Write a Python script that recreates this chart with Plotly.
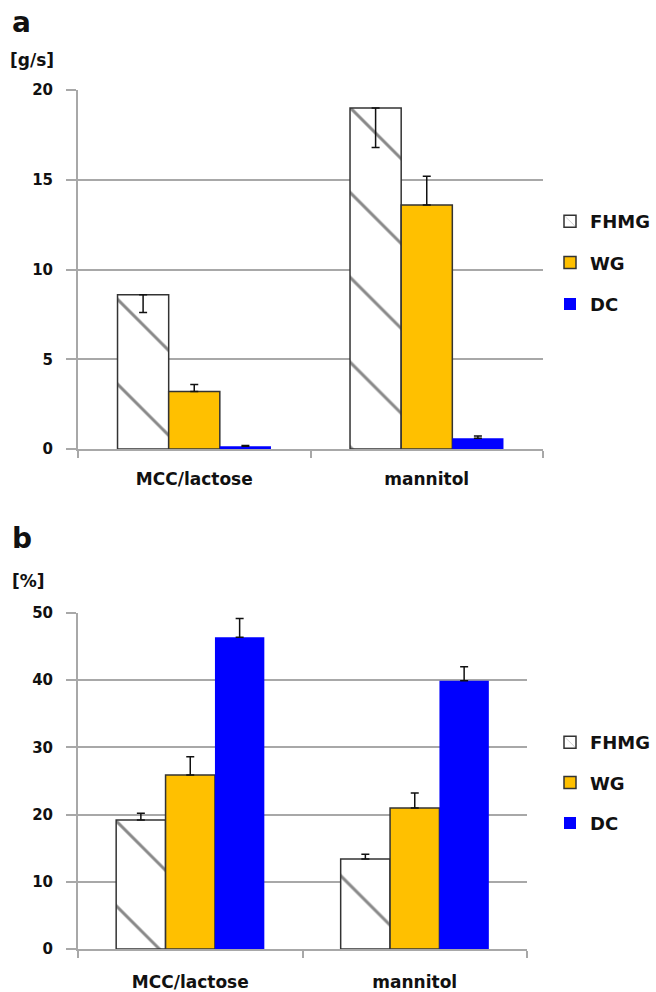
import plotly.graph_objects as go

categories = ["MCC/lactose", "mannitol"]
series_names = ["FHMG", "WG", "DC"]

# panel a  [g/s]
a_fhmg = [8.6, 19.0]
a_fhmg_err = [1.0, 2.2]
a_wg = [3.2, 13.6]
a_wg_err = [0.4, 1.6]
a_dc = [0.15, 0.6]
a_dc_err = [0.05, 0.12]

# panel b  [%]
b_fhmg = [19.2, 13.4]
b_fhmg_err = [1.0, 0.7]
b_wg = [25.9, 21.0]
b_wg_err = [2.7, 2.2]
b_dc = [46.4, 39.9]
b_dc_err = [2.8, 2.1]

yticks_a = [0, 5, 10, 15, 20]
yticks_b = [0, 10, 20, 30, 40, 50]

FONT = "DejaVu Sans"
W, H = 656, 992
GRID = "#a8a8a8"
WG_COL = "#FFC000"
DC_COL = "#0000FF"
EDGE = "#333333"

fig = go.Figure()

def err(arr, minus=False):
    if minus:
        return dict(type="data", symmetric=False, array=[0] * len(arr), arrayminus=arr,
                    color="#111111", thickness=1.5, width=4)
    return dict(type="data", symmetric=False, array=arr, arrayminus=[0] * len(arr),
                color="#111111", thickness=1.5, width=4)

fhmg_marker = dict(color="white", line=dict(color=EDGE, width=1.5),
                   pattern=dict(shape="\\", fgcolor="#111111", bgcolor="white", size=60, solidity=0.05))

panels = [
    ("x", "y", "legend", [(a_fhmg, a_fhmg_err, True), (a_wg, a_wg_err, False), (a_dc, a_dc_err, False)]),
    ("x2", "y2", "legend2", [(b_fhmg, b_fhmg_err, False), (b_wg, b_wg_err, False), (b_dc, b_dc_err, False)]),
]
for xa, ya, lg, data in panels:
    for i, (vals, e, minus) in enumerate(data):
        name = series_names[i]
        if i == 0:
            marker = fhmg_marker
        elif i == 1:
            marker = dict(color=WG_COL, line=dict(color=EDGE, width=1.5))
        else:
            marker = dict(color=DC_COL, line=dict(width=0))
        fig.add_trace(go.Bar(x=categories, y=vals, name=name, marker=marker,
                             error_y=err(e, minus), xaxis=xa, yaxis=ya, legend=lg,
                             legendgroup=name + lg))

axis_font = dict(family=FONT, size=15, color="#111111", weight="bold")
xaxis_font = dict(family=FONT, size=17, color="#111111", weight="bold")

xcommon = dict(type="category", showgrid=False, showline=True, linecolor=GRID, linewidth=2,
               ticks="outside", tickson="boundaries", ticklen=7, tickcolor=GRID, tickwidth=2,
               tickfont=xaxis_font, automargin=False)
ycommon = dict(showgrid=True, gridcolor=GRID, gridwidth=2, showline=True, linecolor=GRID,
               linewidth=2, ticks="outside", ticklen=10, tickcolor=GRID, tickwidth=2,
               tickfont=axis_font, ticklabelstandoff=10, zeroline=False, automargin=False)

leg_font = dict(family=FONT, size=18, color="#111111", weight="bold")

fig.update_layout(
    width=W, height=H,
    margin=dict(l=0, r=0, t=0, b=0, autoexpand=False),
    paper_bgcolor="white", plot_bgcolor="white",
    barmode="group", bargap=0.34, bargroupgap=0,
    showlegend=True,
    xaxis=dict(domain=[78 / W, 543 / W], anchor="y", ticklabelstandoff=14, **xcommon),
    yaxis=dict(domain=[1 - 449 / H, 1 - 90 / H], anchor="x", range=[0, 20], tickvals=yticks_a, **ycommon),
    xaxis2=dict(domain=[78 / W, 527 / W], anchor="y2", ticklabelstandoff=17, **xcommon),
    yaxis2=dict(domain=[1 - 949 / H, 1 - 613 / H], anchor="x2", range=[0, 50], tickvals=yticks_b, **ycommon),
    legend=dict(x=550 / W, y=1 - 203 / H, xanchor="left", yanchor="top", font=leg_font,
                traceorder="grouped", tracegroupgap=15, itemwidth=30, bgcolor="rgba(0,0,0,0)"),
    legend2=dict(x=550 / W, y=1 - 724 / H, xanchor="left", yanchor="top", font=leg_font,
                 traceorder="grouped", tracegroupgap=14, itemwidth=30, bgcolor="rgba(0,0,0,0)"),
)

ann_font_big = dict(family=FONT, size=28, color="#111111", weight="bold")
ann_font_unit = dict(family=FONT, size=17, color="#111111", weight="bold")
fig.add_annotation(text="a", x=10 / W, y=1 - 4 / H, xref="paper", yref="paper",
                   xanchor="left", yanchor="top", showarrow=False, font=ann_font_big)
fig.add_annotation(text="[g/s]", x=8 / W, y=1 - 48 / H, xref="paper", yref="paper",
                   xanchor="left", yanchor="top", showarrow=False, font=ann_font_unit)
fig.add_annotation(text="b", x=10 / W, y=1 - 520 / H, xref="paper", yref="paper",
                   xanchor="left", yanchor="top", showarrow=False, font=ann_font_big)
fig.add_annotation(text="[%]", x=10 / W, y=1 - 569 / H, xref="paper", yref="paper",
                   xanchor="left", yanchor="top", showarrow=False, font=ann_font_unit)

fig.write_html("out.html", config={"displayModeBar": False},
               post_script="document.body.style.margin='0';")
